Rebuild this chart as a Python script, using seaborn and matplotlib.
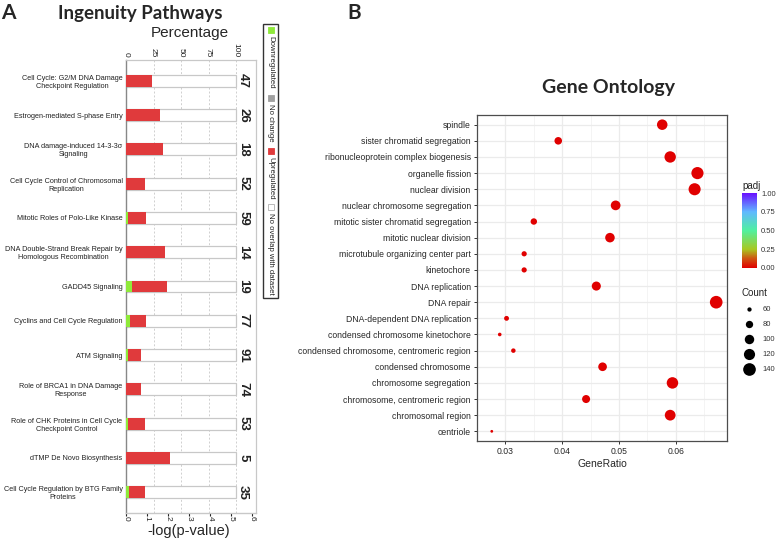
import numpy as np
import pandas as pd
import matplotlib
matplotlib.use("Agg")
import matplotlib.pyplot as plt
import seaborn as sns
from matplotlib.colors import LinearSegmentedColormap, Normalize
from matplotlib.cm import ScalarMappable
from matplotlib.patches import Rectangle

# ---------------- data: Ingenuity Pathways ----------------
pathways = [
    "Cell Cycle: G2/M DNA Damage\nCheckpoint Regulation",
    "Estrogen-mediated S-phase Entry",
    "DNA damage-induced 14-3-3\u03c3\nSignaling",
    "Cell Cycle Control of Chromosomal\nReplication",
    "Mitotic Roles of Polo-Like Kinase",
    "DNA Double-Strand Break Repair by\nHomologous Recombination",
    "GADD45 Signaling",
    "Cyclins and Cell Cycle Regulation",
    "ATM Signaling",
    "Role of BRCA1 in DNA Damage\nResponse",
    "Role of CHK Proteins in Cell Cycle\nCheckpoint Control",
    "dTMP De Novo Biosynthesis",
    "Cell Cycle Regulation by BTG Family\nProteins",
]
down_pct = [0, 0, 0, 0, 1.7, 0, 5.3, 3.9, 2.2, 0, 1.9, 0, 2.9]
up_pct = [23.4, 30.8, 33.3, 17.3, 16.9, 35.7, 31.6, 14.3, 11.0, 13.5, 15.1, 40.0, 14.3]
pathway_sizes = [47, 26, 18, 52, 59, 14, 19, 77, 91, 74, 53, 5, 35]
pct_ticks = [0, 25, 50, 75, 100]
logp_ticks = [0, 1, 2, 3, 4, 5, 6]
legend_items = ["Downregulated", "No change", "Upregulated", "No overlap with dataset"]

# ---------------- data: Gene Ontology ----------------
go_terms = [
    "spindle", "sister chromatid segregation", "ribonucleoprotein complex biogenesis",
    "organelle fission", "nuclear division", "nuclear chromosome segregation",
    "mitotic sister chromatid segregation", "mitotic nuclear division",
    "microtubule organizing center part", "kinetochore", "DNA replication", "DNA repair",
    "DNA-dependent DNA replication", "condensed chromosome kinetochore",
    "condensed chromosome, centromeric region", "condensed chromosome",
    "chromosome segregation", "chromosome, centromeric region", "chromosomal region",
    "centriole",
]
gene_ratio = [0.0576, 0.0393, 0.0590, 0.0638, 0.0633, 0.0494, 0.0350, 0.0484, 0.0333,
              0.0333, 0.0460, 0.0671, 0.0302, 0.0290, 0.0314, 0.0471, 0.0594, 0.0442,
              0.0590, 0.0276]
go_counts = [112, 82, 123, 133, 132, 103, 73, 101, 65, 65, 96, 140, 63, 57, 61, 92, 124,
             86, 115, 54]
go_padj = [1e-12, 1e-9, 1e-10, 1e-20, 1e-20, 1e-14, 1e-10, 1e-13, 1e-6, 1e-7, 1e-12,
           1e-10, 1e-8, 1e-7, 1e-8, 1e-12, 1e-18, 1e-11, 1e-13, 1e-4]
count_legend = [60, 80, 100, 120, 140]
padj_ticks = [0.0, 0.25, 0.5, 0.75, 1.0]

# ---------------- style ----------------
sns.set_style("white")
plt.rcParams["font.family"] = ["Liberation Sans", "DejaVu Sans"]

W, H = 777, 540
fig = plt.figure(figsize=(W / 100, H / 100), dpi=100)

def fx(px):
    return px / W

def fy(py):
    return 1 - py / H

RED = "#E03A3C"
GREEN = "#8FEA3A"
GREY = "#A0A0A0"

# ================= Panel A =================
ax = fig.add_axes([fx(126), fy(513), fx(130), (513 - 60) / H])
df_ipa = pd.DataFrame({
    "Pathway": pathways,
    "full": [100] * len(pathways),
    "upcum": [d + u for d, u in zip(down_pct, up_pct)],
    "down": down_pct,
})
sns.barplot(data=df_ipa, y="Pathway", x="full", orient="h", color="white", saturation=1,
            edgecolor="#C8C8C8", linewidth=0.9, width=0.35, ax=ax, zorder=2)
sns.barplot(data=df_ipa, y="Pathway", x="upcum", orient="h", color=RED, saturation=1,
            linewidth=0, width=0.35, ax=ax, zorder=3)
sns.barplot(data=df_ipa, y="Pathway", x="down", orient="h", color=GREEN, saturation=1,
            linewidth=0, width=0.35, ax=ax, zorder=4)

scale = 5.24 / 100.0
ax.set_xlim(0, 6.19 / scale)
ax.set_ylim(len(pathways) - 1 + 0.61, -0.61)
ax.xaxis.tick_top()
ax.set_xticks(pct_ticks)
ax.set_xticklabels([str(t) for t in pct_ticks], rotation=-90, fontsize=6)
ax.tick_params(axis="x", length=0, pad=2, colors="#222222")
ax.set_xlabel("")
ax.set_ylabel("")
ax.tick_params(axis="y", length=0, pad=2.5, labelsize=5.2, colors="#222222")
for lab in ax.get_yticklabels():
    lab.set_multialignment("center")
ax.xaxis.grid(True, linestyle=(0, (2, 2)), color="#CFCFCF", linewidth=0.7, zorder=0)
ax.set_axisbelow(True)
for s in ["top", "right", "bottom"]:
    ax.spines[s].set_color("#C8C8C8")
    ax.spines[s].set_linewidth(0.9)
ax.spines["left"].set_color("#888888")
ax.spines["left"].set_linewidth(1.0)

secax = ax.secondary_xaxis("bottom", functions=(lambda p: p * scale, lambda v: v / scale))
secax.set_xticks(logp_ticks)
secax.set_xticklabels([str(t) for t in logp_ticks], rotation=-90, fontsize=6)
secax.tick_params(length=2, pad=0.5, colors="#222222")
secax.spines["bottom"].set_color("#C8C8C8")

for i, n in enumerate(pathway_sizes):
    ax.text(106.4, i, str(n), rotation=-90, ha="center", va="center", fontsize=9.5,
            fontweight="bold", color="#222222")

fig.text(fx(8), fy(13), "A", fontsize=15, fontweight="bold", ha="center", va="center",
         family=["Lato", "DejaVu Sans"])
fig.text(fx(140), fy(13), "Ingenuity Pathways", fontsize=13.5, fontweight="bold",
         ha="center", va="center", family=["Lato", "DejaVu Sans"])
fig.text(fx(190), fy(33), "Percentage", fontsize=11, ha="center", va="center")
fig.text(fx(189), fy(531), "-log(p-value)", fontsize=10.5, ha="center", va="center")

# legend box
fig.patches.append(Rectangle((fx(263), fy(298)), fx(15), 274 / H, transform=fig.transFigure,
                             fill=False, edgecolor="#333333", linewidth=1.0))
leg_colors = [GREEN, GREY, RED, "white"]
sq_y = [30, 98, 151, 207]
for name, c, yy in zip(legend_items, leg_colors, sq_y):
    fig.patches.append(Rectangle((fx(267.5), fy(yy + 3)), fx(6), 6 / H,
                                 transform=fig.transFigure, facecolor=c,
                                 edgecolor="#B0B0B0" if c == "white" else c, linewidth=0.6))
    fig.text(fx(270.5), fy(yy + 6), name, rotation=-90, ha="center", va="top", fontsize=5.6,
             color="#222222")

# ================= Panel B =================
ax2 = fig.add_axes([fx(477), fy(441), fx(250), (441 - 115) / H])
cmap = LinearSegmentedColormap.from_list(
    "padj", [(0.0, "#E00000"), (0.12, "#D05010"), (0.25, "#A8C820"), (0.5, "#50F0A0"),
             (0.75, "#60B8FF"), (1.0, "#6A10FF")])
df_go = pd.DataFrame({"Description": go_terms, "GeneRatio": gene_ratio,
                      "Count": go_counts, "padj": go_padj})
sns.scatterplot(data=df_go, x="GeneRatio", y="Description", hue="padj", palette=cmap,
                hue_norm=(0, 1), size="Count", sizes=(4, 83), size_norm=(54, 140),
                linewidth=0, legend=False, ax=ax2, zorder=3)
ax2.set_xlim(0.0256, 0.069)
ax2.set_ylim(len(go_terms) - 0.4, -0.6)
ax2.set_xticks([0.03, 0.04, 0.05, 0.06])
ax2.set_xticklabels(["0.03", "0.04", "0.05", "0.06"])
ax2.set_xticks([0.025, 0.035, 0.045, 0.055, 0.065], minor=True)
ax2.grid(True, which="major", color="#EBEBEB", linewidth=0.9, zorder=0)
ax2.grid(True, which="minor", axis="x", color="#F3F3F3", linewidth=0.6, zorder=0)
ax2.set_axisbelow(True)
for s in ax2.spines.values():
    s.set_color("#4D4D4D")
    s.set_linewidth(0.9)
ax2.tick_params(axis="both", which="major", length=2.5, width=0.7, color="#333333",
                labelsize=6.2, labelcolor="#262626", pad=2, left=True, bottom=True)
ax2.tick_params(axis="x", which="minor", length=0)
ax2.set_ylabel("")
ax2.set_xlabel("GeneRatio", fontsize=7.5, labelpad=2, color="#262626")

fig.text(fx(354), fy(13), "B", fontsize=15, fontweight="bold", ha="center", va="center",
         family=["Lato", "DejaVu Sans"])
fig.text(fx(609), fy(87), "Gene Ontology", fontsize=14, fontweight="bold", ha="center",
         va="center", family=["Lato", "DejaVu Sans"])

# colorbar
cax = fig.add_axes([fx(742), fy(268), fx(15), 75 / H])
cb = fig.colorbar(ScalarMappable(norm=Normalize(0, 1), cmap=cmap), cax=cax)
cb.set_ticks(padj_ticks)
cb.set_ticklabels(["%.2f" % t for t in padj_ticks])
cb.outline.set_visible(False)
cax.tick_params(length=0, labelsize=5.5, pad=3, labelcolor="#333333")
fig.text(fx(742), fy(186), "padj", fontsize=7, ha="left", va="center", color="#222222")

# size legend
axs = fig.add_axes([fx(742), fy(377), fx(15), 75 / H])
df_leg = pd.DataFrame({"x": [0] * len(count_legend), "y": list(range(len(count_legend))),
                       "Count": count_legend})
sns.scatterplot(data=df_leg, x="x", y="y", size="Count", sizes=(4, 83), size_norm=(54, 140),
                color="black", linewidth=0, legend=False, ax=axs)
axs.set_xlim(-1, 1)
axs.set_ylim(len(count_legend) - 0.5, -0.5)
axs.axis("off")
for i, c in enumerate(count_legend):
    axs.text(1.7, i, str(c), fontsize=5.5, ha="left", va="center", color="#333333",
             clip_on=False)
fig.text(fx(742), fy(293), "Count", fontsize=7, ha="left", va="center", color="#222222")

fig.savefig("out.png", dpi=100)
